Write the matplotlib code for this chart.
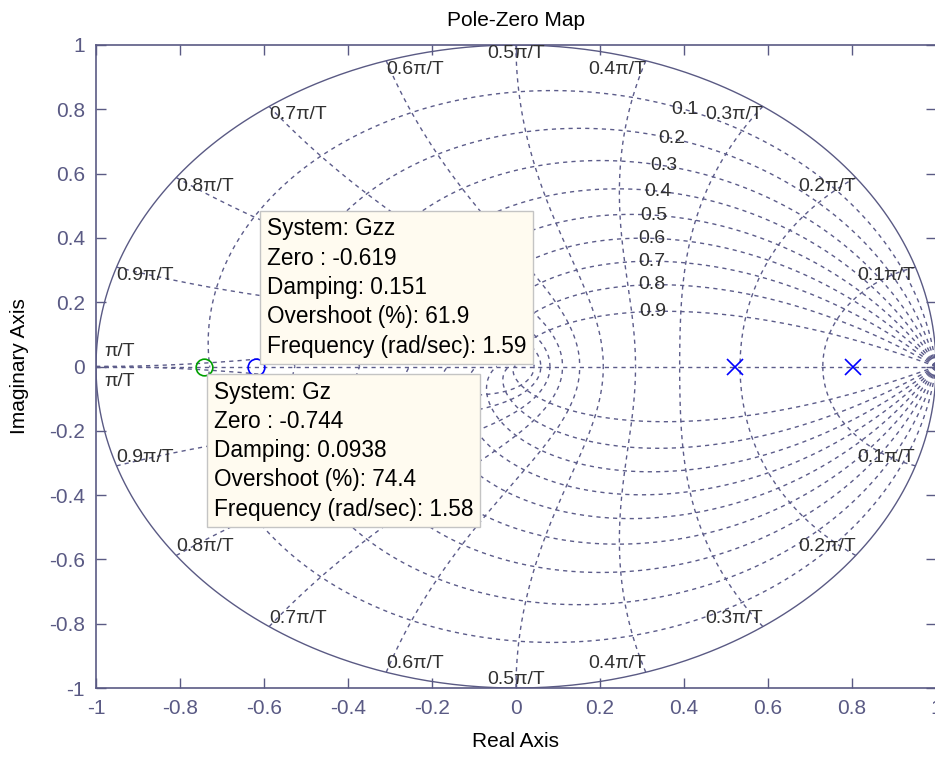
import matplotlib.pyplot as plt
import numpy as np
from matplotlib.ticker import FuncFormatter

plt.rcParams['font.family'] = ['Liberation Sans', 'DejaVu Sans']
plt.rcParams['axes.unicode_minus'] = False

# pole / zero data
systems = ['Gzz', 'Gz']
zeros = [-0.619, -0.744]
zero_colors = ['#0000ff', '#00a000']
damping = ['0.151', '0.0938']
overshoot = ['61.9', '74.4']
frequency = ['1.59', '1.58']
poles = [0.521, 0.802]

# zgrid values
zetas = [0.1, 0.2, 0.3, 0.4, 0.5, 0.6, 0.7, 0.8, 0.9]
wn_fracs = [0.1, 0.2, 0.3, 0.4, 0.5, 0.6, 0.7, 0.8, 0.9, 1.0]
ticks = [-1, -0.8, -0.6, -0.4, -0.2, 0, 0.2, 0.4, 0.6, 0.8, 1]

axc = '#5a5a84'
gridc = '#5c5c8a'
txtc = '#303030'

fig = plt.figure(figsize=(9.35, 7.58), dpi=100)
ax = fig.add_axes([96/935, 70/758, 840/935, 643/758])

# unit circle
th = np.linspace(0, 2*np.pi, 600)
ax.plot(np.cos(th), np.sin(th), color=axc, lw=1.0)

# real axis
ax.plot([-1, 1], [0, 0], color=gridc, lw=1.0, dashes=(3, 3))

# damping lines
for zt in zetas:
    s = np.sqrt(1 - zt**2)
    w = np.linspace(0, np.pi/s, 400)
    z = np.exp(-zt*w) * np.exp(1j*w*s)
    ax.plot(z.real, z.imag, color=gridc, lw=1.0, dashes=(3, 3))
    ax.plot(z.real, -z.imag, color=gridc, lw=1.0, dashes=(3, 3))
    wl = 1.11
    zl = np.exp(-zt*wl) * np.exp(1j*wl*s)
    ax.text(zl.real, zl.imag, '%g' % zt, ha='center', va='center',
            fontsize=14, color=txtc)

# natural frequency lines
zz = np.linspace(0, 1, 300)
for f in wn_fracs:
    wn = f*np.pi
    z = np.exp(-zz*wn + 1j*wn*np.sqrt(1 - zz**2))
    ax.plot(z.real, z.imag, color=gridc, lw=1.0, dashes=(3, 3))
    ax.plot(z.real, -z.imag, color=gridc, lw=1.0, dashes=(3, 3))
    lab = 'π/T' if f == 1.0 else '%gπ/T' % f
    p = np.exp(1j*wn)
    if f < 0.5:
        ha = 'right'
    elif f == 0.5:
        ha = 'center'
    else:
        ha = 'left'
    if f == 1.0:
        ax.text(p.real + 0.02, 0.02, lab, ha=ha, va='bottom', fontsize=14, color=txtc)
        ax.text(p.real + 0.02, -0.02, lab, ha=ha, va='top', fontsize=14, color=txtc)
    else:
        ax.text(p.real, p.imag, lab, ha=ha, va='top', fontsize=14, color=txtc)
        ax.text(p.real, -p.imag, lab, ha=ha, va='bottom', fontsize=14, color=txtc)

# poles and zeros
ax.plot(poles, [0]*len(poles), 'x', color='#0000ff', ms=11, mew=1.2, ls='none')
for zr, c in zip(zeros, zero_colors):
    ax.plot([zr], [0], 'o', mfc='none', mec=c, ms=12, mew=1.2)

# data tips
offsets = [(11, 9), (10, -14)]
valigns = ['bottom', 'top']
for i in range(len(systems)):
    txt = ('System: %s\nZero : %.3f\nDamping: %s\nOvershoot (%%): %s\n'
           'Frequency (rad/sec): %s') % (systems[i], zeros[i], damping[i],
                                         overshoot[i], frequency[i])
    ax.annotate(txt, xy=(zeros[i], 0), xytext=offsets[i], textcoords='offset pixels',
                ha='left', va=valigns[i], fontsize=16.3, linespacing=1.35,
                bbox=dict(boxstyle='square,pad=0.3', fc='#fffbf0', ec='#c4c4c4'),
                zorder=10)

ax.set_xlim(-1, 1)
ax.set_ylim(-1, 1)
ax.set_xticks(ticks)
ax.set_yticks(ticks)
fmt = FuncFormatter(lambda v, pos: '%g' % v)
ax.xaxis.set_major_formatter(fmt)
ax.yaxis.set_major_formatter(fmt)
ax.tick_params(direction='in', length=7, width=1, colors=axc, labelsize=15,
               top=True, right=True, pad=8)
for sp in ax.spines.values():
    sp.set_color(axc)
    sp.set_linewidth(1.2)

ax.set_title('Pole-Zero Map', fontsize=15, pad=14)
ax.set_xlabel('Real Axis', fontsize=15, labelpad=10)
ax.set_ylabel('Imaginary Axis', fontsize=15, labelpad=14)

fig.savefig('out.png', dpi=100)
